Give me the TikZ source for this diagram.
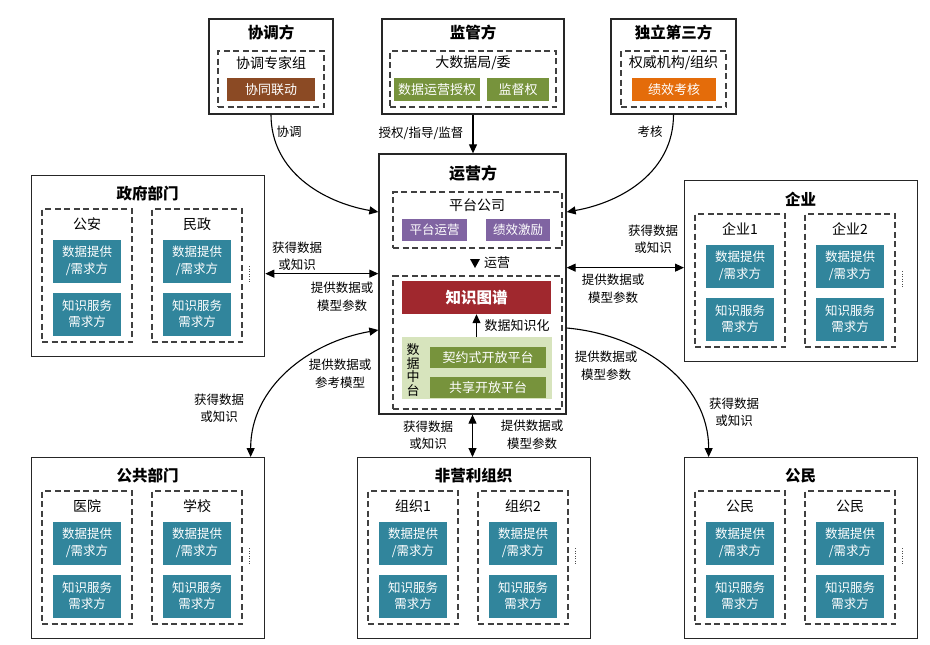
\documentclass[tikz,border=0pt]{standalone}
\usepackage{fontspec}
\setmainfont{Noto Sans CJK SC}
\usetikzlibrary{arrows.meta}
\definecolor{tealc}{HTML}{31859C}
\definecolor{brownc}{HTML}{8B4A24}
\definecolor{greenc}{HTML}{77933C}
\definecolor{orangec}{HTML}{E46C0A}
\definecolor{purplec}{HTML}{8064A2}
\definecolor{redc}{HTML}{A0282E}
\definecolor{lgreen}{HTML}{D7E4BD}
\newcommand\stakebox[6]{%
  \begin{scope}[shift={(#2,#3)}]
    \node[outer,minimum width=233pt,minimum height=181pt,anchor=north west] (#1) at (0,0) {};
    \node[ttl] (#1-t) at (116.5,19) {#4};
    \node[dbox,minimum width=90pt,minimum height=133pt] (#1-d1) at (56,100.5) {};
    \node[dbox,minimum width=90pt,minimum height=133pt] (#1-d2) at (166,100.5) {};
    \node[sub] (#1-s1) at (56,49) {#5};
    \node[sub] (#1-s2) at (166,49) {#6};
    \node[tbox] (#1-a1) at (56,86) {数据提供\\/需求方};
    \node[tbox] (#1-b1) at (56,139) {知识服务\\需求方};
    \node[tbox] (#1-a2) at (166,86) {数据提供\\/需求方};
    \node[tbox] (#1-b2) at (166,139) {知识服务\\需求方};
    \draw[dotstyle] (218,91) -- (218,108);
  \end{scope}}
\begin{document}
\begin{tikzpicture}[x=1pt,y=-1pt,
  outer/.style={draw=black!85,line width=1.3pt,fill=white,inner sep=0pt},
  dbox/.style={draw=black!75,line width=1.1pt,dash pattern=on 6pt off 3.5pt,inner sep=0pt},
  ttl/.style={font=\fontsize{15.5}{18}\selectfont\bfseries,inner sep=0pt},
  sub/.style={font=\fontsize{14}{17}\selectfont,inner sep=0pt},
  cbox/.style={inner sep=0pt,text=white,align=center,font=\fontsize{13}{16}\selectfont},
  tbox/.style={cbox,fill=tealc,minimum width=68pt,minimum height=43pt,font=\fontsize{12.5}{16.5}\selectfont},
  lab/.style={inner sep=0pt,align=center,font=\fontsize{12.5}{17.5}\selectfont},
  conn/.style={line width=1.1pt,draw=black},
  arr/.style={-{Triangle[length=9pt,width=8pt]}},
  darr/.style={{Triangle[length=9pt,width=8pt]}-{Triangle[length=9pt,width=8pt]}},
  dotstyle/.style={line width=1pt,dash pattern=on 1pt off 1.5pt,draw=black!70}]
\useasboundingbox (0,0) rectangle (930,645);

% ---------- top row ----------
\node[outer,minimum width=124pt,minimum height=95pt] (xt) at (271,66.5) {};
\node[ttl] (xt-t) at (271,33) {协调方};
\node[dbox,minimum width=106pt,minimum height=56pt] (xt-d) at (271,79) {};
\node[sub] (xt-s) at (271,63) {协调专家组};
\node[cbox,fill=brownc,minimum width=88pt,minimum height=23pt] (xt-b) at (271,89.5) {协同联动};

\node[outer,minimum width=182pt,minimum height=95pt] (sup) at (473,66.5) {};
\node[ttl] (sup-t) at (473,33) {监管方};
\node[dbox,minimum width=166pt,minimum height=56pt] (sup-d) at (473,79) {};
\node[sub] (sup-s) at (473,63) {大数据局/委};
\node[cbox,fill=greenc,minimum width=86pt,minimum height=23pt] (sup-g1) at (437,89.5) {数据运营授权};
\node[cbox,fill=greenc,minimum width=62pt,minimum height=23pt] (sup-g2) at (518,89.5) {监督权};

\node[outer,minimum width=125pt,minimum height=95pt] (tp) at (673.5,66.5) {};
\node[ttl] (tp-t) at (673.5,33) {独立第三方};
\node[dbox,minimum width=105pt,minimum height=56pt] (tp-d) at (673.5,79) {};
\node[sub] (tp-s) at (673.5,63) {权威机构/组织};
\node[cbox,fill=orangec,minimum width=84pt,minimum height=23pt] (tp-o) at (674,89.5) {绩效考核};

% ---------- operator ----------
\node[outer,minimum width=187pt,minimum height=260pt] (op) at (472.5,284) {};
\node[ttl,font=\fontsize{16}{18}\selectfont\bfseries] (op-t) at (473,173) {运营方};
\node[dbox,minimum width=169pt,minimum height=56pt] (op-d1) at (477.5,220) {};
\node[sub] (op-s) at (477,205) {平台公司};
\node[cbox,fill=purplec,minimum width=65pt,minimum height=22pt,font=\fontsize{12.5}{15}\selectfont] (op-p1) at (434.5,230) {平台运营};
\node[cbox,fill=purplec,minimum width=64pt,minimum height=22pt,font=\fontsize{12.5}{15}\selectfont] (op-p2) at (518,230) {绩效激励};
\fill (470,259) -- (480,259) -- (475,268) -- cycle;
\node[lab,font=\fontsize{13}{15}\selectfont] (op-run) at (497,263) {运营};
\node[dbox,minimum width=169pt,minimum height=133pt] (op-d2) at (477.5,342.5) {};
\node[cbox,fill=redc,minimum width=149pt,minimum height=33pt,font=\fontsize{15.5}{18}\selectfont\bfseries] (kg) at (476.5,297.5) {知识图谱};
\node[fill=lgreen,minimum width=150pt,minimum height=62pt,inner sep=0pt] (dp) at (477,368) {};
\node[lab,font=\fontsize{13}{13.5}\selectfont] (dp-t) at (413,370) {数\\据\\中\\台};
\node[cbox,fill=greenc,minimum width=116pt,minimum height=21pt] (dp-1) at (488,357.5) {契约式开放平台};
\node[cbox,fill=greenc,minimum width=116pt,minimum height=21pt] (dp-2) at (488,387.5) {共享开放平台};
\draw[conn,arr] (kg.south |- dp.north) -- (kg.south);
\node[lab,font=\fontsize{13}{15}\selectfont] (kg-l) at (517,326) {数据知识化};

% ---------- stakeholders ----------
\stakebox{gov}{31}{175}{政府部门}{公安}{民政}
\stakebox{ent}{684}{180}{企业}{企业1}{企业2}
\stakebox{pub}{31}{457}{公共部门}{医院}{学校}
\stakebox{npo}{357}{457}{非营利组织}{组织1}{组织2}
\stakebox{cit}{684}{457}{公民}{公民}{公民}

% ---------- connectors ----------
\draw[conn,arr] (xt.south) to[out=-90,in=170] ([yshift=72pt]op.west);
\draw[conn,arr] (tp.south) to[out=-90,in=10] ([yshift=72pt]op.east);
\draw[conn,arr] (sup.south) -- (sup.south |- op.north);
\draw[conn,darr] ([yshift=-7.5pt]gov.east) -- ([yshift=-7.5pt]gov.east -| op.west);
\draw[conn,darr] ([yshift=3.5pt]ent.west -| op.east) -- ([yshift=3.5pt]ent.west);
\draw[conn,darr] (op.south) -- (op.south |- npo.north);
\draw[conn,darr] ([xshift=102.5pt]pub.north) to[out=90,in=190] ([yshift=-46pt]op.west);
\draw[conn,arr] ([yshift=-44pt]op.east) to[out=-5,in=90] ([xshift=-92.5pt]cit.north);

% ---------- labels ----------
\node[lab] (l-xt) at (289,132) {协调};
\node[lab] (l-sup) at (421,133) {授权/指导/监督};
\node[lab] (l-tp) at (650,132) {考核};
\node[lab] (l-gov1) at (297,256) {获得数据\\或知识};
\node[lab] (l-gov2) at (342,297) {提供数据或\\模型参数};
\node[lab] (l-ent1) at (653,239) {获得数据\\或知识};
\node[lab] (l-ent2) at (613,289) {提供数据或\\模型参数};
\node[lab] (l-pub1) at (340,374) {提供数据或\\参考模型};
\node[lab] (l-pub2) at (219,408) {获得数据\\或知识};
\node[lab] (l-cit1) at (606,366) {提供数据或\\模型参数};
\node[lab] (l-cit2) at (734,412) {获得数据\\或知识};
\node[lab] (l-npo1) at (428,435) {获得数据\\或知识};
\node[lab] (l-npo2) at (532,435) {提供数据或\\模型参数};
\end{tikzpicture}
\end{document}
